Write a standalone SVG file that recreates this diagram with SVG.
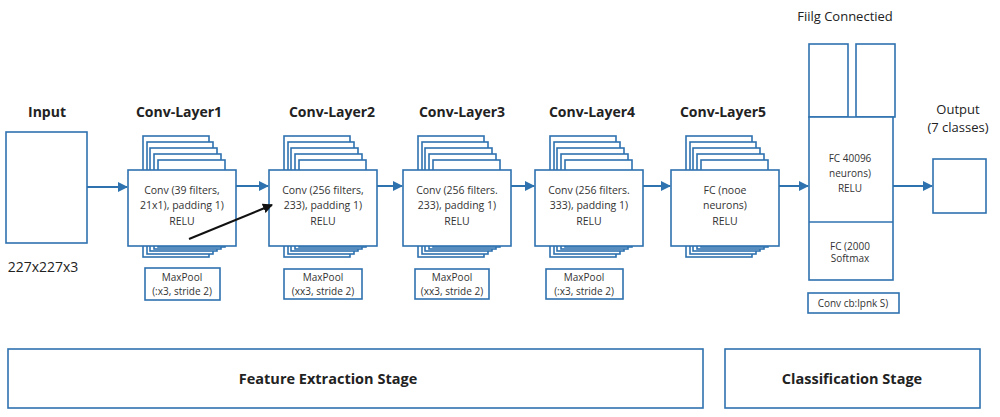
<svg xmlns="http://www.w3.org/2000/svg" xmlns:xlink="http://www.w3.org/1999/xlink" width="1000" height="417" viewBox="0 0 1000 417">
<style>
.box{fill:#fff;stroke:#2e72b0;stroke-width:1.6}
.title{font-family:"Open Sans","Liberation Sans",sans-serif;font-weight:bold;font-size:14px;fill:#222;text-anchor:middle}
.stage{font-family:"Open Sans","Liberation Sans",sans-serif;font-weight:bold;font-size:14.5px;fill:#222;text-anchor:middle}
.lbl{font-family:"Open Sans","Liberation Sans",sans-serif;font-size:10.5px;fill:#333;text-anchor:middle}
.sm{font-family:"Open Sans","Liberation Sans",sans-serif;font-size:10px;fill:#333;text-anchor:middle}
.big{font-family:"Open Sans","Liberation Sans",sans-serif;font-size:13px;fill:#222;text-anchor:middle}
.conn{stroke:#2e72b0;stroke-width:2;fill:none;marker-end:url(#ah)}
</style>
<defs>
<marker id="ah" markerWidth="10" markerHeight="10" refX="9" refY="5" orient="auto" markerUnits="userSpaceOnUse">
<path d="M0,0 L10,5 L0,10 z" fill="#2e72b0"/>
</marker>
<marker id="ahk" markerWidth="10" markerHeight="10" refX="9" refY="5" orient="auto" markerUnits="userSpaceOnUse">
<path d="M0,0 L10,5 L0,10 z" fill="#111"/>
</marker>
<g id="stack">
<rect class="box" x="15" y="-34" width="66" height="121"/>
<rect class="box" x="19" y="-28" width="66" height="112"/>
<rect class="box" x="22" y="-22" width="67" height="103"/>
<rect class="box" x="26" y="-16" width="67" height="95"/>
<rect class="box" x="30" y="-10" width="67" height="87"/>
<rect class="box" x="0" y="0" width="108" height="76"/>
</g>
</defs>
<rect width="1000" height="417" fill="#fff"/>

<g id="input">
<text class="title" x="47" y="117">Input</text>
<rect class="box" x="6" y="132" width="81" height="111"/>
<text class="big" x="43" y="272" style="font-size:14px">227x227x3</text>
</g>

<g id="conv1">
<text class="title" x="179" y="117">Conv-Layer1</text>
<use xlink:href="#stack" x="128" y="170"/>
<text class="lbl" x="182" y="194">Conv (39 filters,</text>
<text class="lbl" x="182" y="209">21x1), padding 1)</text>
<text class="lbl" x="182" y="225">RELU</text>
<rect class="box" x="145" y="268" width="75" height="32"/>
<text class="sm" x="182" y="281">MaxPool</text>
<text class="sm" x="182" y="295">(:x3, stride 2)</text>
</g>

<g id="conv2">
<text class="title" x="332" y="117">Conv-Layer2</text>
<use xlink:href="#stack" x="269" y="170"/>
<text class="lbl" x="323" y="194">Conv (256 filters,</text>
<text class="lbl" x="323" y="209">233), padding 1)</text>
<text class="lbl" x="323" y="225">RELU</text>
<rect class="box" x="284" y="269" width="78" height="30"/>
<text class="sm" x="323" y="281">MaxPool</text>
<text class="sm" x="323" y="295">(xx3, stride 2)</text>
</g>

<g id="conv3">
<text class="title" x="462" y="117">Conv-Layer3</text>
<use xlink:href="#stack" x="403" y="170"/>
<text class="lbl" x="457" y="194">Conv (256 filters.</text>
<text class="lbl" x="457" y="209">233), padding 1)</text>
<text class="lbl" x="457" y="225">RELU</text>
<rect class="box" x="415" y="269" width="74" height="30"/>
<text class="sm" x="452" y="281">MaxPool</text>
<text class="sm" x="452" y="295">(xx3, stride 2)</text>
</g>

<g id="conv4">
<text class="title" x="592" y="117">Conv-Layer4</text>
<use xlink:href="#stack" x="535" y="170"/>
<text class="lbl" x="589" y="194">Conv (256 filters.</text>
<text class="lbl" x="589" y="209">333), padding 1)</text>
<text class="lbl" x="589" y="225">RELU</text>
<rect class="box" x="546" y="269" width="77" height="30"/>
<text class="sm" x="584" y="281">MaxPool</text>
<text class="sm" x="584" y="295">(:x3, stride 2)</text>
</g>

<g id="conv5">
<text class="title" x="723" y="117">Conv-Layer5</text>
<use xlink:href="#stack" x="671" y="170"/>
<text class="lbl" x="725" y="194">FC (nooe</text>
<text class="lbl" x="725" y="209">neurons)</text>
<text class="lbl" x="725" y="225">RELU</text>
</g>

<g id="fc">
<text class="big" x="845" y="21">Fiilg Connectied</text>
<rect class="box" x="809" y="44" width="39" height="73"/>
<rect class="box" x="856" y="44" width="39" height="73"/>
<rect class="box" x="809" y="117" width="84" height="163"/>
<line x1="809" y1="222" x2="893" y2="222" stroke="#2e72b0" stroke-width="1.6"/>
<text class="sm" x="850" y="162">FC 40096</text>
<text class="sm" x="850" y="177">neurons)</text>
<text class="sm" x="850" y="192">RELU</text>
<text class="sm" x="850" y="250">FC (2000</text>
<text class="sm" x="850" y="262">Softmax</text>
<rect class="box" x="808" y="293" width="91" height="20"/>
<text class="sm" x="853" y="307">Conv cb:lpnk S)</text>
</g>

<g id="output">
<text class="big" x="958" y="114">Output</text>
<text class="big" x="958" y="132">(7 classes)</text>
<rect class="box" x="933" y="159" width="53" height="54"/>
</g>

<g id="stages">
<rect class="box" x="8" y="349" width="695" height="59"/>
<text class="stage" x="328" y="384">Feature Extraction Stage</text>
<rect class="box" x="725" y="349" width="255" height="59"/>
<text class="stage" x="852" y="384">Classification Stage</text>
</g>

<g id="connectors">
<line class="conn" x1="87" y1="187" x2="127" y2="187"/>
<line class="conn" x1="236" y1="186" x2="268" y2="186"/>
<line class="conn" x1="377" y1="186" x2="402" y2="186"/>
<line class="conn" x1="511" y1="186" x2="534" y2="186"/>
<line class="conn" x1="643" y1="186" x2="670" y2="186"/>
<line class="conn" x1="779" y1="186" x2="808" y2="186"/>
<line class="conn" x1="893" y1="186" x2="932" y2="186"/>
<line x1="189" y1="239" x2="272" y2="205" stroke="#111" stroke-width="2" marker-end="url(#ahk)"/>
</g>
</svg>
